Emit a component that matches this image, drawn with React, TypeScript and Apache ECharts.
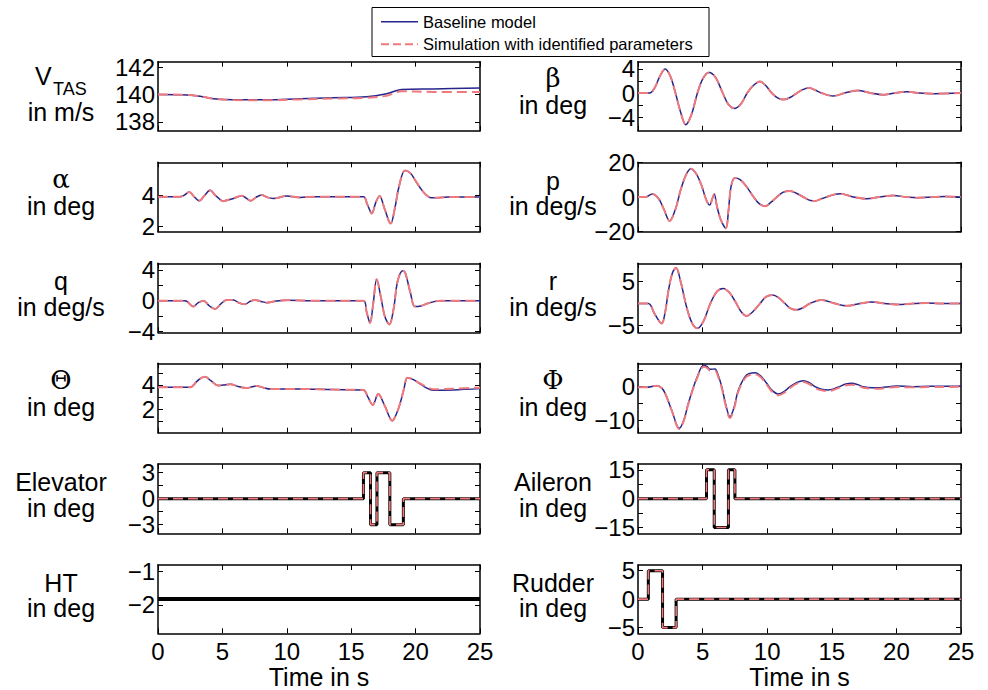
import React, { useEffect, useRef } from "react";
import * as echarts from "echarts";

const FONT = "'Liberation Sans', Arial, Helvetica, sans-serif";
const SERIF = "'DejaVu Serif', 'Liberation Serif', serif";
const NAVY = "#25258c";
const PINK = "#ef7a7e";

// ---------- data ----------
const timeTicks = [0, 5, 10, 15, 20, 25];

const vtasT = [0, 1.84, 3.26, 4.3, 5.85, 8.4, 11.0, 13.6, 16.2, 17.75, 18.9, 21.4, 25];
const vtasBase = [140.0, 139.98, 139.88, 139.69, 139.61, 139.61, 139.69, 139.76, 139.83, 140.05, 140.36, 140.41, 140.48];
const vtasSim = [140.0, 139.98, 139.88, 139.69, 139.6, 139.58, 139.64, 139.7, 139.76, 139.9, 140.24, 140.19, 140.19];

const alphaT = [0, 1.7, 2.05, 2.43, 2.8, 3.2, 3.6, 4.04, 4.5, 5.07, 5.5, 5.85, 6.5, 6.85, 7.2, 7.6, 8.05, 8.5, 8.95, 10, 11, 12.3, 15.94, 16.25, 16.6, 16.9, 17.2, 17.6, 18.06, 18.4, 18.7, 19.18, 19.6, 19.95, 20.5, 21, 21.4, 22.5, 25];
const alphaV = [3.89, 3.89, 4.0, 4.19, 3.9, 3.63, 3.95, 4.3, 3.95, 3.61, 3.7, 3.78, 3.96, 3.8, 3.63, 3.85, 4.0, 3.85, 3.78, 3.94, 3.85, 3.89, 3.89, 3.4, 2.82, 3.5, 3.94, 3.1, 2.17, 3.2, 4.5, 5.57, 5.4, 4.97, 4.3, 3.89, 3.82, 3.87, 3.88];

const qT = [0, 2.1, 2.74, 3.1, 3.52, 4.0, 4.43, 4.9, 5.33, 5.85, 6.3, 6.75, 7.15, 7.53, 8.0, 8.44, 9.2, 10, 12, 15.94, 16.2, 16.46, 16.7, 16.98, 17.3, 17.6, 17.96, 18.3, 18.6, 19.0, 19.2, 19.6, 19.95, 20.4, 20.86, 21.9, 25];
const qV = [0, 0, -0.78, -0.3, 0, -0.7, -1.09, -0.4, 0.09, 0.09, -0.3, -0.48, -0.1, 0.09, -0.1, -0.26, -0.05, 0.05, 0, 0, -1.5, -2.9, -0.5, 2.78, 0.5, -2, -3.1, -1, 2.5, 3.9, 3.6, 1.0, -0.78, -0.7, -0.4, 0, 0];

const thetaT = [0, 2.48, 3.0, 3.3, 3.65, 4.1, 4.68, 5.1, 5.6, 6.3, 6.9, 7.3, 7.66, 8.2, 8.7, 11, 13.6, 15.94, 16.3, 16.67, 17.1, 17.6, 18.2, 18.5, 18.8, 19.1, 19.36, 19.7, 20.1, 20.7, 21.4, 22.9, 25];
const thetaBase = [3.81, 3.81, 4.27, 4.55, 4.68, 4.35, 3.95, 4.0, 4.05, 3.85, 3.75, 3.85, 3.92, 3.78, 3.67, 3.67, 3.62, 3.59, 3.0, 2.36, 3.26, 2.3, 1.07, 1.6, 2.49, 3.7, 4.6, 4.5, 4.27, 3.85, 3.56, 3.59, 3.7];
const thetaSim = [3.81, 3.81, 4.27, 4.55, 4.68, 4.35, 3.95, 4.0, 4.05, 3.85, 3.75, 3.85, 3.92, 3.78, 3.67, 3.67, 3.62, 3.59, 3.0, 2.36, 3.26, 2.3, 1.07, 1.6, 2.49, 3.7, 4.6, 4.5, 4.27, 3.92, 3.65, 3.7, 3.78];

const elevT = [0, 15.95, 16.5, 17.0, 18.0, 19.05, 25];
const elevV = [0, 3, -3, 3, -3, 0, 0];

const htT = [0, 25];
const htV = [-1.82, -1.82];

const betaT = [0, 0.9, 1.3, 1.7, 2.1, 2.5, 2.9, 3.3, 3.7, 4.15, 4.6, 5.05, 5.5, 6.0, 6.5, 7.0, 7.5, 8.0, 8.45, 8.95, 9.45, 9.9, 10.35, 10.8, 11.3, 11.8, 12.3, 12.8, 13.25, 13.7, 14.2, 15.1, 16.0, 17.0, 18.0, 19.0, 19.9, 20.8, 21.8, 22.9, 25];
const betaV = [0, 0, 0.9, 2.8, 3.97, 2.8, 0, -3.2, -5.25, -3.5, 0, 2.5, 3.42, 2.6, 0.3, -1.9, -2.55, -1.7, 0, 1.3, 1.9, 1.2, 0, -0.8, -1.09, -0.7, 0, 0.6, 0.82, 0.5, 0, -0.49, 0, 0.43, 0, -0.27, 0, 0.22, 0, -0.1, 0];

const pT = [0, 0.6, 1.1, 1.6, 2.0, 2.45, 2.9, 3.3, 3.7, 4.08, 4.5, 4.9, 5.3, 5.55, 5.75, 5.9, 6.1, 6.4, 6.8, 7.0, 7.2, 7.5, 7.9, 8.4, 8.9, 9.4, 9.85, 10.3, 10.75, 11.25, 11.75, 12.3, 12.8, 13.25, 13.7, 14.2, 14.6, 15.2, 15.7, 16.2, 16.7, 17.7, 18.7, 19.75, 20.8, 21.6, 22.9, 23.8, 25];
const pV = [0, 0, 1.7, -1, -7, -13.8, -7, 4, 12.5, 16.3, 13.5, 7, -2, -4.65, -1, 1.7, -5, -13, -18, -8, 6, 10.9, 10, 6, 0.5, -4, -5.3, -3, 0, 2.8, 3.5, 2, 0, -1.8, -2.3, -1, 0, 1.5, 1.9, 1, 0, -1, 0, 0.8, 0, -0.4, 0, 0.3, 0];

const rT = [0, 0.8, 1.3, 1.83, 2.1, 2.35, 2.65, 2.94, 3.3, 3.77, 4.2, 4.6, 5.1, 5.57, 6.1, 6.6, 7.1, 7.5, 8.0, 8.4, 8.9, 9.44, 9.9, 10.42, 10.9, 11.38, 11.8, 12.28, 12.8, 13.3, 14.2, 15.25, 16.15, 17.18, 18.1, 19.1, 20.15, 21.3, 22.3, 23.5, 25];
const rV = [0, 0, -2.4, -4.5, -2, 2.8, 6.8, 8.1, 5, -0.9, -4.5, -5.6, -3.8, -0.2, 2.7, 3.4, 2.4, 0.6, -1.9, -2.8, -1.8, 0, 1.5, 1.95, 1.3, 0, -1.1, -1.42, -0.9, 0, 0.82, 0, -0.52, 0, 0.37, 0, -0.22, 0, 0.12, 0, 0];

const phiT = [0, 0.67, 1.44, 1.96, 2.6, 3.2, 3.55, 3.9, 4.54, 5.1, 5.35, 5.57, 5.96, 6.2, 6.48, 6.8, 7.12, 7.45, 7.77, 8.4, 9.06, 9.5, 9.96, 10.4, 10.86, 11.3, 11.76, 12.3, 12.8, 13.25, 13.7, 14.2, 14.73, 15.2, 15.63, 16.1, 16.54, 17.0, 17.44, 18.1, 18.73, 19.4, 20.0, 21.3, 22.6, 23.8, 25];
const phiBase = [-0.2, -0.2, 0.3, -1, -7, -12.5, -10, -5, 2.5, 6.5, 6, 5.2, 5.3, 3.5, 0, -5.5, -9, -6, -1, 3.5, 4.2, 3.2, 1, -1.2, -2.2, -1.5, 0, 1.3, 1.8, 1.2, 0, -0.8, -1, -0.6, 0.1, 0.8, 1, 0.6, 0, -0.3, -0.3, 0, 0.2, 0, 0.1, 0.1, 0.2];
const phiSim = [-0.2, -0.2, 0.3, -1, -7, -12.7, -10.2, -5.2, 2.2, 6.0, 5.6, 4.8, 4.8, 3.0, -0.4, -5.9, -9.4, -6.4, -1.4, 3.0, 3.7, 2.8, 0.6, -1.6, -2.6, -1.9, -0.4, 0.9, 1.4, 0.8, -0.4, -1.1, -1.35, -0.9, -0.2, 0.4, 0.6, 0.3, -0.3, -0.6, -0.6, -0.3, -0.1, -0.2, -0.1, -0.1, 0.0];

const ailT = [0, 5.3, 5.9, 7.0, 7.5, 25];
const ailV = [0, 15, -15, 15, 0, 0];

const rudT = [0, 0.8, 1.9, 2.95, 25];
const rudV = [0, 5, -5, 0, 0];

// y ranges, ticks, labels
const vtasRange = [137.35, 142.4]; const vtasTicks = [138, 140, 142]; const vtasLabels = [138, 140, 142];
const alphaRange = [1.65, 6.1]; const alphaTicks = [2, 4]; const alphaLabels = [2, 4];
const qRange = [-4.13, 4.87]; const qTicks = [-4, -2, 0, 2, 4]; const qLabels = [-4, 0, 4];
const thetaRange = [0.08, 5.78]; const thetaTicks = [1, 2, 3, 4, 5]; const thetaLabels = [2, 4];
const elevRange = [-4, 4]; const elevTicks = [-3, -1.5, 0, 1.5, 3]; const elevLabels = [-3, 0, 3];
const htRange = [-2.85, -0.8]; const htTicks = [-2, -1]; const htLabels = [-2, -1];
const betaRange = [-6.25, 5.2]; const betaTicks = [-4, -2, 0, 2, 4]; const betaLabels = [-4, 0, 4];
const pRange = [-20, 20]; const pTicks = [-20, 0, 20]; const pLabels = [-20, 0, 20];
const rRange = [-6.5, 9.1]; const rTicks = [-5, 0, 5]; const rLabels = [-5, 0, 5];
const phiRange = [-13.8, 7]; const phiTicks = [-10, -5, 0, 5]; const phiLabels = [-10, 0];
const ailRange = [-18, 18]; const ailTicks = [-15, -7.5, 0, 7.5, 15]; const ailLabels = [-15, 0, 15];
const rudRange = [-6, 6]; const rudTicks = [-5, 0, 5]; const rudLabels = [-5, 0, 5];

const legendNames = ["Baseline model", "Simulation with identified parameters"];

// ---------- layout ----------
const ROW_TOP = [61.7, 162.3, 263.3, 363.3, 464, 565];
const ROW_BOTTOM = [130.7, 231.7, 332.3, 432.7, 533.3, 633.3];
const COL_LEFT = [158, 638];
const COL_WIDTH = [322, 323];
const TITLE_X = [61, 553];

type Plot = {
  row: number; col: number; kind: "resp" | "input";
  t: number[]; base: number[]; sim?: number[];
  range: number[]; ticks: number[]; labels: number[];
  title: string; serif?: boolean; unit: string; pinkOverlay?: boolean;
};

const plots: Plot[] = [
  { row: 0, col: 0, kind: "resp", t: vtasT, base: vtasBase, sim: vtasSim, range: vtasRange, ticks: vtasTicks, labels: vtasLabels, title: "V_TAS", unit: "in m/s" },
  { row: 1, col: 0, kind: "resp", t: alphaT, base: alphaV, sim: alphaV, range: alphaRange, ticks: alphaTicks, labels: alphaLabels, title: "α", serif: true, unit: "in deg" },
  { row: 2, col: 0, kind: "resp", t: qT, base: qV, sim: qV, range: qRange, ticks: qTicks, labels: qLabels, title: "q", unit: "in deg/s" },
  { row: 3, col: 0, kind: "resp", t: thetaT, base: thetaBase, sim: thetaSim, range: thetaRange, ticks: thetaTicks, labels: thetaLabels, title: "Θ", serif: true, unit: "in deg" },
  { row: 4, col: 0, kind: "input", t: elevT, base: elevV, range: elevRange, ticks: elevTicks, labels: elevLabels, title: "Elevator", unit: "in deg", pinkOverlay: true },
  { row: 5, col: 0, kind: "input", t: htT, base: htV, range: htRange, ticks: htTicks, labels: htLabels, title: "HT", unit: "in deg", pinkOverlay: false },
  { row: 0, col: 1, kind: "resp", t: betaT, base: betaV, sim: betaV, range: betaRange, ticks: betaTicks, labels: betaLabels, title: "β", serif: true, unit: "in deg" },
  { row: 1, col: 1, kind: "resp", t: pT, base: pV, sim: pV, range: pRange, ticks: pTicks, labels: pLabels, title: "p", unit: "in deg/s" },
  { row: 2, col: 1, kind: "resp", t: rT, base: rV, sim: rV, range: rRange, ticks: rTicks, labels: rLabels, title: "r", unit: "in deg/s" },
  { row: 3, col: 1, kind: "resp", t: phiT, base: phiBase, sim: phiSim, range: phiRange, ticks: phiTicks, labels: phiLabels, title: "Φ", serif: true, unit: "in deg" },
  { row: 4, col: 1, kind: "input", t: ailT, base: ailV, range: ailRange, ticks: ailTicks, labels: ailLabels, title: "Aileron", unit: "in deg", pinkOverlay: true },
  { row: 5, col: 1, kind: "input", t: rudT, base: rudV, range: rudRange, ticks: rudTicks, labels: rudLabels, title: "Rudder", unit: "in deg", pinkOverlay: true },
];

const zip = (t: number[], v: number[]) => t.map((x, i) => [x, v[i]]);
const fmt = (v: number) => String(v).replace("-", "\u2212");

function buildOption() {
  const grid: any[] = [];
  const xAxis: any[] = [];
  const yAxis: any[] = [];
  const series: any[] = [];
  const graphic: any[] = [];

  const lineStyleAxis = { color: "#000", width: 1.5 };
  const tickStyle = { show: true, inside: true, length: 5, lineStyle: { color: "#000", width: 1 } };

  plots.forEach((p, k) => {
    const top = ROW_TOP[p.row];
    const height = ROW_BOTTOM[p.row] - top;
    const left = COL_LEFT[p.col];
    const width = COL_WIDTH[p.col];
    grid.push({ left, top, width, height, containLabel: false });

    const isBottom = p.row === 5;
    xAxis.push({
      type: "value", gridIndex: k, position: "bottom", min: 0, max: 25, interval: 5,
      axisLine: { show: true, onZero: false, lineStyle: lineStyleAxis },
      axisTick: { ...tickStyle, customValues: timeTicks },
      axisLabel: { show: isBottom, customValues: timeTicks, showMinLabel: true, showMaxLabel: true, hideOverlap: false, color: "#000", fontSize: 24, lineHeight: 18, fontFamily: FONT, margin: 9 },
      splitLine: { show: false },
    });
    xAxis.push({
      type: "value", gridIndex: k, position: "top", min: 0, max: 25, interval: 5,
      axisLine: { show: true, onZero: false, lineStyle: lineStyleAxis },
      axisTick: { ...tickStyle, customValues: timeTicks },
      axisLabel: { show: false },
      splitLine: { show: false },
    });
    yAxis.push({
      type: "value", gridIndex: k, position: "left", min: p.range[0], max: p.range[1],
      axisLine: { show: true, onZero: false, lineStyle: lineStyleAxis },
      axisTick: { ...tickStyle, customValues: p.ticks },
      axisLabel: { show: true, customValues: p.labels, showMinLabel: true, showMaxLabel: true, hideOverlap: false, formatter: fmt, color: "#000", fontSize: 24, lineHeight: 16, fontFamily: FONT, margin: 3 },
      splitLine: { show: false },
    });
    yAxis.push({
      type: "value", gridIndex: k, position: "right", min: p.range[0], max: p.range[1],
      axisLine: { show: true, onZero: false, lineStyle: lineStyleAxis },
      axisTick: { ...tickStyle, customValues: p.ticks },
      axisLabel: { show: false },
      splitLine: { show: false },
    });

    const xi = 2 * k;
    const yi = 2 * k;
    if (p.kind === "resp") {
      series.push({
        name: legendNames[0], type: "line", xAxisIndex: xi, yAxisIndex: yi,
        data: zip(p.t, p.base), symbol: "none", smooth: 0.35, clip: true,
        lineStyle: { color: NAVY, width: 1.5 }, z: 2,
      });
      series.push({
        name: legendNames[1], type: "line", xAxisIndex: xi, yAxisIndex: yi,
        data: zip(p.t, p.sim as number[]), symbol: "none", smooth: 0.35, clip: true,
        lineStyle: { color: PINK, width: 2, type: [10, 5] }, z: 3,
      });
    } else {
      series.push({
        name: "input", type: "line", xAxisIndex: xi, yAxisIndex: yi,
        data: zip(p.t, p.base), symbol: "none", step: "end",
        lineStyle: { color: "#000", width: p.pinkOverlay ? 3 : 4 }, z: 2,
      });
      if (p.pinkOverlay) {
        series.push({
          name: "input sim", type: "line", xAxisIndex: xi, yAxisIndex: yi,
          data: zip(p.t, p.base), symbol: "none", step: "end",
          lineStyle: { color: PINK, width: 1.6, type: [10, 5] }, z: 3,
        });
      }
    }

    // axis titles
    const cy = (top + ROW_BOTTOM[p.row]) / 2;
    const cx = TITLE_X[p.col];
    const textBase = { fill: "#000", align: "center", textAlign: "center", verticalAlign: "middle", textVerticalAlign: "middle" };
    if (p.title === "V_TAS") {
      graphic.push({ type: "text", x: 35, y: 76, style: { ...textBase, align: "left", textAlign: "left", text: "V", font: `25px ${FONT}` } });
      graphic.push({ type: "text", x: 53, y: 89, style: { ...textBase, align: "left", textAlign: "left", text: "TAS", font: `18px ${FONT}` } });
      graphic.push({ type: "text", x: cx, y: 112, style: { ...textBase, text: p.unit, font: `25px ${FONT}` } });
    } else {
      graphic.push({ type: "text", x: cx, y: cy - (p.serif ? 18 : 16.5), style: { ...textBase, text: p.title, font: p.serif ? `26px ${SERIF}` : `25px ${FONT}` } });
      graphic.push({ type: "text", x: cx, y: cy + 9, style: { ...textBase, text: p.unit, font: `25px ${FONT}` } });
    }
  });

  // x-axis names
  [0, 1].forEach((c) => {
    graphic.push({
      type: "text", x: COL_LEFT[c] + COL_WIDTH[c] / 2, y: 677,
      style: { text: "Time in s", fill: "#000", font: `25px ${FONT}`, align: "center", textAlign: "center", verticalAlign: "middle", textVerticalAlign: "middle" },
    });
  });

  // legend
  graphic.push({ type: "rect", shape: { x: 372, y: 7.5, width: 337, height: 49 }, style: { fill: "#fff", stroke: "#000", lineWidth: 1 }, z: 10 });
  graphic.push({ type: "line", shape: { x1: 381, y1: 21.7, x2: 418, y2: 21.7 }, style: { stroke: NAVY, lineWidth: 1.5 }, z: 11 });
  graphic.push({ type: "line", shape: { x1: 381, y1: 44.3, x2: 418, y2: 44.3 }, style: { stroke: PINK, lineWidth: 2, lineDash: [8, 4] }, z: 11 });
  graphic.push({ type: "text", x: 423, y: 21.7, z: 11, style: { text: legendNames[0], fill: "#000", font: `16.5px ${FONT}`, align: "left", textAlign: "left", verticalAlign: "middle", textVerticalAlign: "middle" } });
  graphic.push({ type: "text", x: 423, y: 44.3, z: 11, style: { text: legendNames[1], fill: "#000", font: `16.5px ${FONT}`, align: "left", textAlign: "left", verticalAlign: "middle", textVerticalAlign: "middle" } });

  return {
    animation: false,
    backgroundColor: "#fff",
    grid, xAxis, yAxis, series, graphic,
  };
}

export default function App() {
  const ref = useRef<HTMLDivElement>(null);
  useEffect(() => {
    if (!ref.current) return;
    const chart = echarts.init(ref.current, undefined, { renderer: "svg" });
    chart.setOption(buildOption() as any);
    return () => chart.dispose();
  }, []);
  return (
    <div
      ref={ref}
      style={{ position: "absolute", left: 0, top: 0, width: 988, height: 690, background: "#fff" }}
    />
  );
}
